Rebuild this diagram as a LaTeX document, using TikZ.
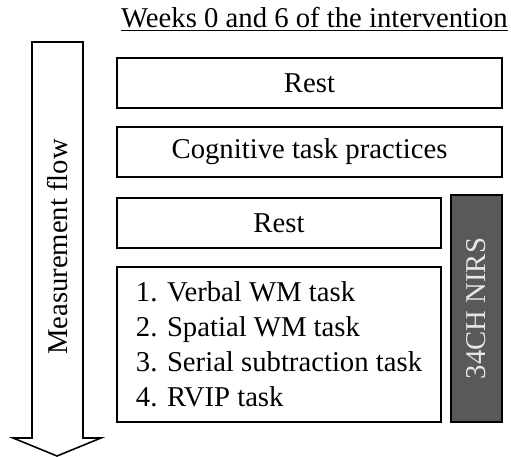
\documentclass[tikz,border=0pt]{standalone}
\usepackage{fontspec}
\setmainfont{Liberation Serif}
\definecolor{nirsgray}{HTML}{595959}
\definecolor{nirstext}{HTML}{E6E6E6}

\begin{document}
\begin{tikzpicture}[x=1pt,y=1pt,
  every node/.style={font=\fontsize{28.7}{35}\selectfont},
  stagebox/.style={draw=black,line width=1.6pt,inner sep=0pt},
  nirsbox/.style={draw=black,line width=1.6pt,fill=nirsgray,text=nirstext,inner sep=0pt}]
  \useasboundingbox (0,0) rectangle (511,457);
  \node[anchor=base] (title) at (314.5,429) {\underline{Weeks 0 and 6 of the intervention}};

  \draw[line width=1.6pt,line join=miter] (32,415) -- (83,415) -- (83,19) -- (101,19) -- (57,1)
    -- (13,19) -- (32,19) -- cycle;
  \node[rotate=90] (flow) at (57.5,210) {Measurement flow};

  \node[stagebox,minimum width=385pt,minimum height=50pt] (rest1) at (309.5,374) {Rest};
  \node[stagebox,minimum width=385pt,minimum height=50pt] (practice) at (309.5,305) {Cognitive task practices};
  \node[stagebox,minimum width=324pt,minimum height=50pt] (rest2) at (279,234) {Rest};
  \node[stagebox,minimum width=324pt,minimum height=155pt,align=left] (tasks) at (279,112.5)
    {1. Verbal WM task\\2. Spatial WM task\\3. Serial subtraction task\\4. RVIP task};
  \node[nirsbox,rotate=90,minimum width=227pt,minimum height=51pt] (nirs) at (476.5,148.5) {34CH NIRS};
\end{tikzpicture}
\end{document}
